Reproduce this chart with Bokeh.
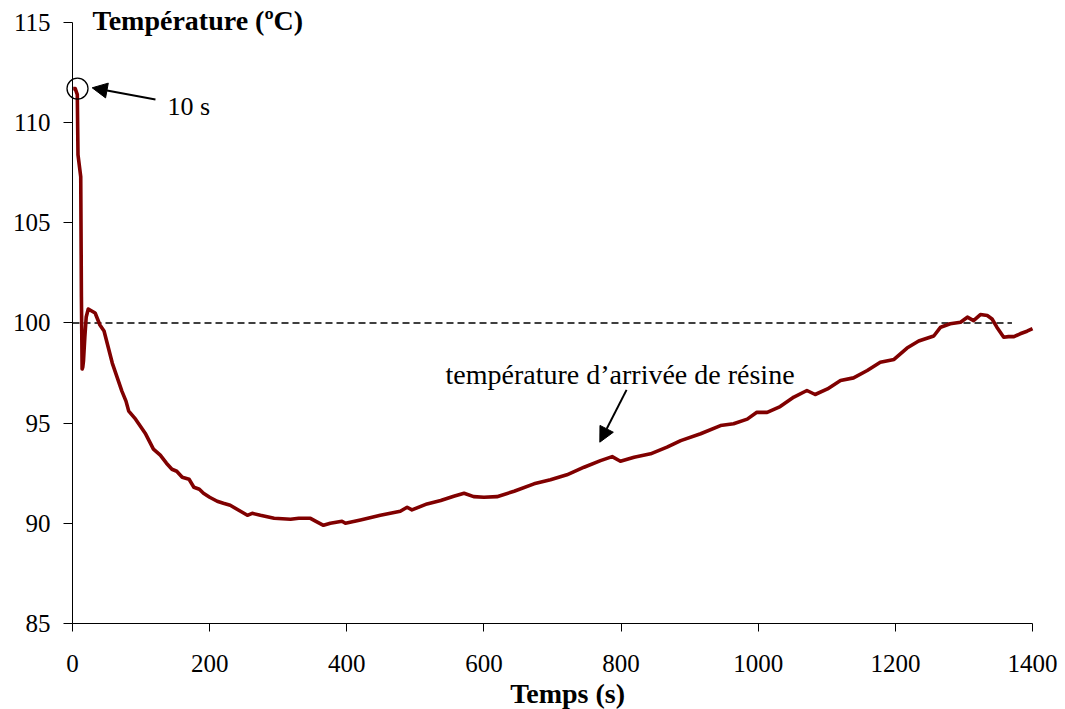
from bokeh.plotting import figure
from bokeh.models import Range1d, FixedTicker, Label, Arrow, NormalHead
from bokeh.embed import file_html
from bokeh.resources import INLINE

# ---- data ----
time_s = [1, 4, 6, 7, 8, 12, 13, 14, 15, 16, 18, 20, 23, 28, 33, 40, 46, 52, 58, 65,
          72, 78, 82, 92, 100, 106, 112, 118, 128, 137, 145, 152, 160, 170, 177, 185,
          191, 200, 211, 220, 230, 245, 255, 262, 274, 294, 318, 330, 347, 355, 366,
          376, 393, 398, 420, 449, 478, 488, 495, 517, 537, 556, 571, 585, 600, 619,
          644, 673, 697, 721, 746, 770, 787, 799, 819, 843, 867, 887, 916, 945, 964,
          984, 998, 1013, 1032, 1052, 1071, 1083, 1101, 1120, 1139, 1159, 1178, 1198,
          1217, 1234, 1256, 1266, 1280, 1295, 1305, 1314, 1324, 1334, 1341, 1348, 1358,
          1365, 1373, 1382, 1392, 1400]
temperature = [111.7, 111.7, 111.5, 111.4, 108.4, 107.3, 101.3, 97.7, 97.8, 98.1, 99.3,
               100.3, 100.7, 100.6, 100.5, 99.9, 99.6, 98.8, 98.0, 97.3, 96.6, 96.1, 95.6,
               95.2, 94.8, 94.5, 94.1, 93.7, 93.4, 93.0, 92.7, 92.6, 92.3, 92.2, 91.8, 91.7,
               91.5, 91.3, 91.1, 91.0, 90.9, 90.6, 90.4, 90.5, 90.4, 90.25, 90.2, 90.25,
               90.25, 90.1, 89.9, 90.0, 90.1, 90.0, 90.17, 90.4, 90.6, 90.8, 90.67, 90.97,
               91.14, 91.35, 91.5, 91.33, 91.3, 91.33, 91.6, 91.97, 92.17, 92.42, 92.8,
               93.13, 93.33, 93.1, 93.3, 93.47, 93.8, 94.13, 94.47, 94.88, 94.97, 95.2,
               95.54, 95.54, 95.83, 96.3, 96.63, 96.43, 96.71, 97.13, 97.26, 97.63, 98.04,
               98.18, 98.75, 99.1, 99.35, 99.79, 99.96, 100.04, 100.29, 100.12, 100.42,
               100.37, 100.2, 99.79, 99.29, 99.32, 99.32, 99.46, 99.59, 99.72]
threshold_x = [0, 1370]
threshold_y = [100, 100]
x_ticks = [0, 200, 400, 600, 800, 1000, 1200, 1400]
y_ticks = [85, 90, 95, 100, 105, 110, 115]

FONT = "Liberation Serif"

# The frame covers the whole canvas; both axes are pinned at (0, 85) and bounded,
# so that tick labels and titles that lie outside the data area are not clipped.
p = figure(width=1060, height=709, x_range=Range1d(-105, 1440.8), y_range=Range1d(80.706, 116.098),
           output_backend="svg", toolbar_location=None,
           min_border_left=0, min_border_right=0, min_border_top=0, min_border_bottom=0)
p.outline_line_color = None
p.xgrid.grid_line_color = None
p.ygrid.grid_line_color = None
p.background_fill_color = "white"
p.border_fill_color = "white"

for ax in (p.xaxis[0], p.yaxis[0]):
    ax.axis_line_color = "black"
    ax.axis_line_width = 1
    ax.major_tick_line_color = "black"
    ax.major_tick_in = 0
    ax.minor_tick_line_color = None
    ax.major_label_text_font = FONT
    ax.major_label_text_font_size = "25px"
    ax.major_label_text_color = "black"

p.xaxis.ticker = FixedTicker(ticks=x_ticks)
p.yaxis.ticker = FixedTicker(ticks=y_ticks)
p.xaxis.fixed_location = 85
p.yaxis.fixed_location = 0
p.xaxis.bounds = (0, 1400)
p.yaxis.bounds = (85, 115)
p.xaxis.major_tick_out = 8
p.yaxis.major_tick_out = 9
p.xaxis.major_label_standoff = 24
p.yaxis.major_label_standoff = 13

# dashed 100 °C reference line
p.line(threshold_x, threshold_y, line_color="black", line_width=1.5, line_dash="7 4")

# temperature curve
p.line(time_s, temperature, line_color="#800000", line_width=3.6, line_join="round")

# circle marking the 10 s point
p.scatter(x=[7.3], y=[111.7], size=21, fill_color=None, line_color="black", line_width=1.3)

# annotations
p.add_layout(Arrow(end=NormalHead(size=15, fill_color="black", line_color="black"),
                   x_start=121, y_start=111.16, x_end=28.7, y_end=111.74,
                   line_color="black", line_width=2))
p.add_layout(Label(x=138.5, y=110.79, text="10 s", text_font=FONT, text_color="black",
                   text_font_size="26px", text_baseline="alphabetic"))

p.add_layout(Arrow(end=NormalHead(size=15, fill_color="black", line_color="black"),
                   x_start=808, y_start=96.66, x_end=769, y_end=94.05,
                   line_color="black", line_width=2))
p.add_layout(Label(x=544, y=97.41, text="température d\u2019arrivée de résine",
                   text_font=FONT, text_color="black", text_font_size="28px",
                   text_baseline="alphabetic"))

p.add_layout(Label(x=29.2, y=115.12, text="Température (ºC)", text_font=FONT,
                   text_color="black", text_font_style="bold", text_font_size="28px",
                   text_baseline="alphabetic"))
p.add_layout(Label(x=722, y=81.5, text="Temps (s)", text_font=FONT, text_color="black",
                   text_font_style="bold", text_font_size="28px",
                   text_align="center", text_baseline="alphabetic"))

open("out.html", "w").write(file_html(p, INLINE))
